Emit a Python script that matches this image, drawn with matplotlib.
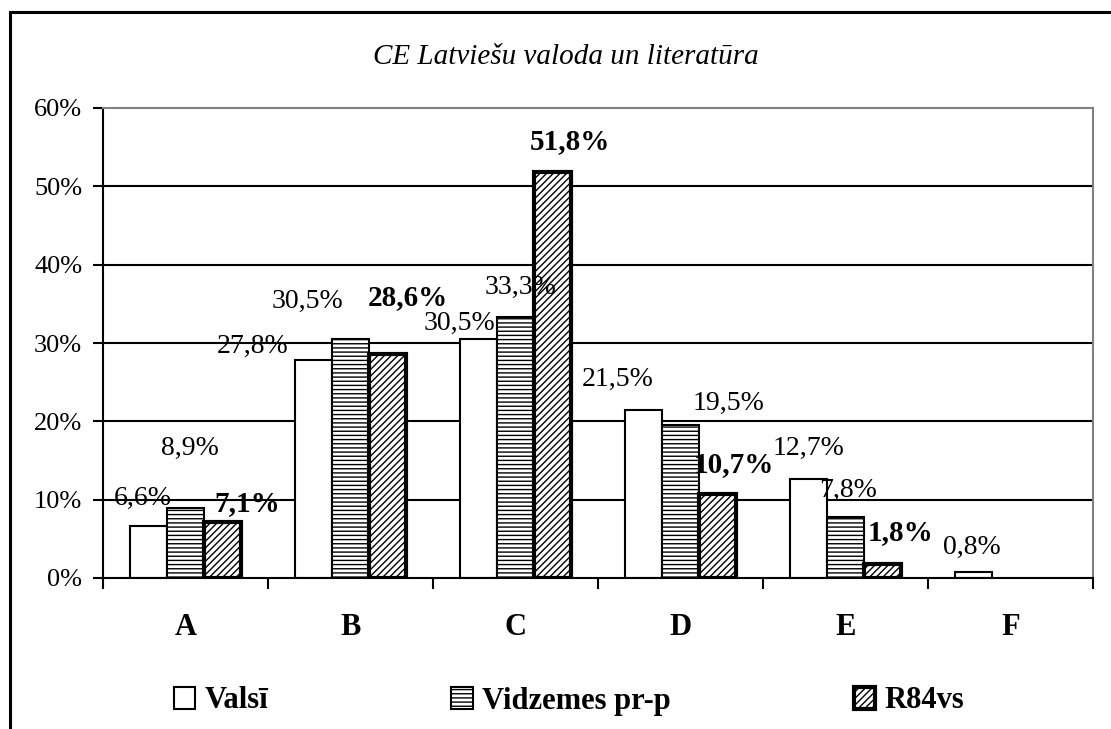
import matplotlib
matplotlib.use('Agg')
import matplotlib.pyplot as plt
import numpy as np
from matplotlib.patches import Rectangle, Patch

plt.rcParams['font.family'] = ['Liberation Serif', 'DejaVu Serif']
plt.rcParams['hatch.linewidth'] = 1.0

# data
title = 'CE Latviešu valoda un literatūra'
categories = ['A', 'B', 'C', 'D', 'E', 'F']
series_names = ['Valsī', 'Vidzemes pr-p', 'R84vs']
valsi = [6.6, 27.8, 30.5, 21.5, 12.7, 0.8]
vidzemes = [8.9, 30.5, 33.3, 19.5, 7.8, np.nan]
r84vs = [7.1, 28.6, 51.8, 10.7, 1.8, np.nan]
yticks = [0, 10, 20, 30, 40, 50, 60]

# label offsets in pixels from bar top (Excel put them by hand)
off_valsi = [(-5, 28), (-61, 14), (-19, 16), (-26, 30), (0, 30), (-1, 24)]
off_vidz = [(4, 60), (-43, 38), (5, 30), (48, 22), (3, 26), (0, 0)]
off_r84 = [(24, 19), (20, 56), (17, 31), (16, 30), (18, 31), (0, 0)]

fig = plt.figure(figsize=(11.11, 7.29), dpi=100)
ax = fig.add_axes([103/1111, 1-578/729, 990/1111, 470/729])

# outer frame (cut off at right / bottom like the original)
fig.patches.append(Rectangle((10/1111, -0.1), 1.2, 1-12/729+0.1,
                             transform=fig.transFigure, fill=False,
                             edgecolor='black', linewidth=2.2))

x = np.arange(len(categories))
w = 0.226
styles = [dict(facecolor='white', hatch=None, lw=1.5),
          dict(facecolor='white', hatch='----', lw=1.5),
          dict(facecolor='white', hatch='/////', lw=3.0)]
allvals = [valsi, vidzemes, r84vs]
offs = [off_valsi, off_vidz, off_r84]

for k, (vals, st) in enumerate(zip(allvals, styles)):
    vals = np.array(vals, dtype=float)
    ok = ~np.isnan(vals)
    ax.bar(x[ok] + (k-1)*w, vals[ok], w, facecolor=st['facecolor'],
           edgecolor='black', hatch=st['hatch'], linewidth=st['lw'], zorder=3)
    for i in np.where(ok)[0]:
        lab = ('%.1f%%' % vals[i]).replace('.', ',')
        ax.annotate(lab, (x[i] + (k-1)*w, vals[i]), xytext=offs[k][i],
                    textcoords='offset pixels', ha='center', va='center',
                    fontsize=21 if k == 2 else 20,
                    fontweight='bold' if k == 2 else 'normal', zorder=5)

ax.set_xlim(-0.5, len(categories)-0.5)
ax.set_ylim(0, 60)
ax.set_yticks(yticks)
ax.set_yticklabels(['%d%%' % t for t in yticks], fontsize=19)
ax.set_xticks(x)
ax.set_xticklabels(categories, fontsize=22, fontweight='bold')
ax.set_xticks(np.arange(len(categories)+1) - 0.5, minor=True)
ax.tick_params(axis='x', which='major', length=0, pad=25)
ax.tick_params(axis='x', which='minor', length=8, width=1.5, direction='out')
ax.tick_params(axis='y', length=7, width=1.5, pad=8)

for t in yticks[1:-1]:
    ax.axhline(t, color='black', linewidth=1.5, zorder=1)
ax.spines['left'].set_linewidth(1.5)
ax.spines['bottom'].set_linewidth(1.5)
ax.spines['bottom'].set_zorder(4)
for s in ['top', 'right']:
    ax.spines[s].set_color('#808080')
    ax.spines[s].set_linewidth(1.5)

fig.text(566/1111, 1-57/729, title, ha='center', va='center',
         fontsize=21, fontstyle='italic')

handles = [Patch(facecolor=st['facecolor'], edgecolor='black',
                 hatch=st['hatch'], linewidth=st['lw']) for st in styles]
fig.legend(handles, series_names, loc='center', ncol=3,
           bbox_to_anchor=(569/1111, 1-701/729), frameon=False,
           prop={'size': 22, 'weight': 'bold'}, handlelength=0.7,
           handleheight=0.7, handletextpad=0.3, columnspacing=6.0)

fig.savefig('out.png', dpi=100)
